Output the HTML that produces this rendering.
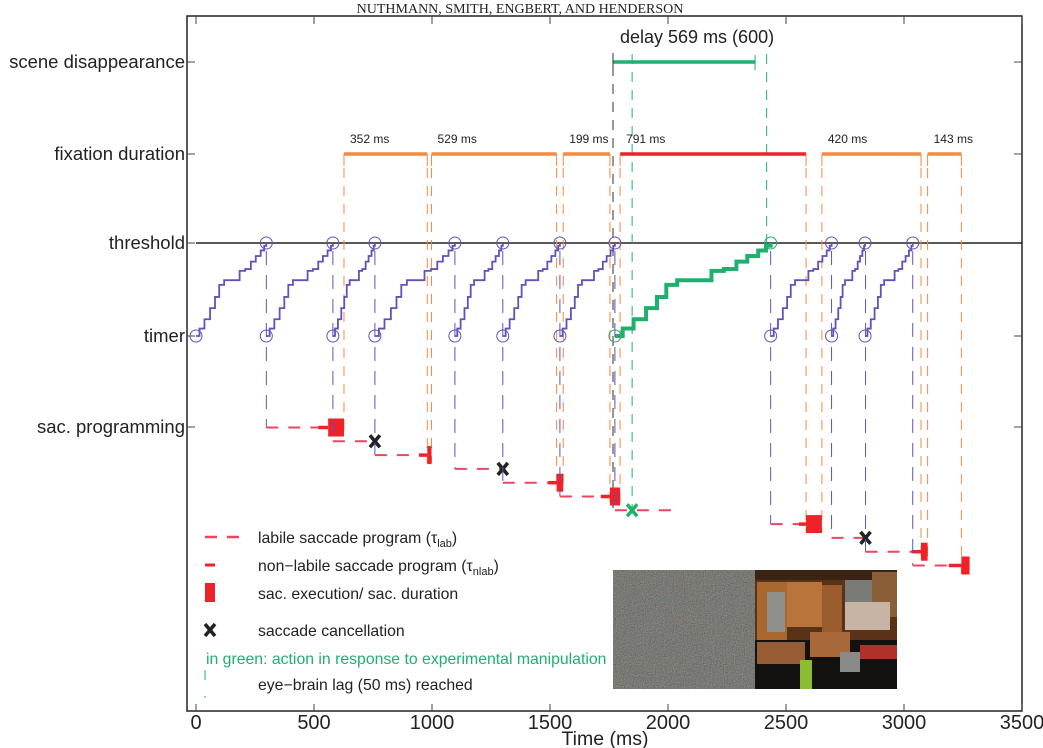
<!DOCTYPE html>
<html><head><meta charset="utf-8"><style>
html,body{margin:0;padding:0;background:#fff;}
svg{display:block;font-family:"Liberation Sans",sans-serif;}
</style></head><body>
<svg id="c" width="1043" height="748" viewBox="0 0 1043 748" xmlns="http://www.w3.org/2000/svg">
<defs>
<filter id="noise" x="0" y="0" width="100%" height="100%" color-interpolation-filters="sRGB"><feTurbulence type="fractalNoise" baseFrequency="0.9" numOctaves="2" seed="3"/><feColorMatrix type="matrix" values="0.45 0 0 0 0.25  0 0.45 0 0 0.25  0 0 0.45 0 0.23  0 0 0 0 1"/></filter>
</defs>
<text x="520" y="13" text-anchor="middle" font-family="Liberation Serif,serif" font-size="14" fill="#222">NUTHMANN, SMITH, ENGBERT, AND HENDERSON</text>
<g id="g"></g>
</svg>
<script>
// ---- data ----
var xTickLabels = ["0","500","1000","1500","2000","2500","3000","3500"];
var xTickValues = [0,500,1000,1500,2000,2500,3000,3500];
var rowLabels = ["scene disappearance","fixation duration","threshold","timer","sac. programming"];
// timer cycles: start, end (ms)
var cycleStart = [0,298,580,758,1097,1300,1542,1775,2435,2693,2835];
var cycleEnd   = [298,580,758,1097,1300,1542,1775,2435,2693,2835,3037];
var cycleGreen = [0,0,0,0,0,0,0,1,0,0,0];
// staircase profile (fraction of time, fraction of level)
var stepT = [0.05,0.12,0.2,0.27,0.33,0.4,0.55,0.62,0.7,0.78,0.85,0.92,0.97,1.0];
var stepL = [0.08,0.18,0.3,0.42,0.55,0.6,0.6,0.7,0.72,0.8,0.86,0.92,0.97,1.0];
// fixations
var fixStart = [627,998,1556,1797,2652,3100];
var fixEnd   = [980,1528,1754,2585,3072,3243];
var fixLabel = ["352 ms","529 ms","199 ms","791 ms","420 ms","143 ms"];
var fixRed   = [0,0,0,1,0,0];
// saccade programs (row index = order)
var progStart  = [298,580,758,1097,1300,1542,1775,2435,2693,2837,3037];
var labileEnd  = [518,758,945,1300,1492,1715,2020,2555,2837,3032,3190];
var nlabEnd    = [560,null,980,null,1528,1754,null,2585,null,3072,3243];
var execEnd    = [627,null,998,null,1556,1797,null,2652,null,3100,3278];
var cancelT    = [null,758,null,1300,null,null,1848,null,2837,null,null];
var cancelGreen= [0,0,0,0,0,0,1,0,0,0,0];
// scene disappearance
var sceneOff = 1767, sceneOn = 2369, sceneResp1 = 1848, sceneResp2 = 2418;

// ---- helpers ----
var NS="http://www.w3.org/2000/svg", G=document.getElementById('g');
function X(t){return 196+t*(1022-196)/3500;}
var yScene=62,yFix=154,yThr=243,yTim=336,ySac=427;
function rowY(k){return 427.5+k*13.8;}
function mk(tag,at,parent){var e=document.createElementNS(NS,tag);for(var k in at)e.setAttribute(k,at[k]);(parent||G).appendChild(e);return e;}
var BLUE="#6152b8",ORANGE="#f58a42",RED="#ee2229",PINK="#ee4460",GREEN="#1fb070";

// frame
var fr=mk('rect',{x:187,y:16,width:835,height:695,fill:'none',stroke:'#222','stroke-width':1.5});

xTickValues.forEach(function(v,i){
  var x=X(v);
  var t1=mk('line',{x1:x,x2:x,y1:711,y2:704,stroke:'#444'});
  
  var t2=mk('line',{x1:x,x2:x,y1:16,y2:24,stroke:'#444'});
  
  var tl=mk('text',{x:x,y:729,'text-anchor':'middle','font-size':20,fill:'#222'});tl.textContent=xTickLabels[i];
  
});
var xt=mk('text',{x:605,y:745,'text-anchor':'middle','font-size':19.5,fill:'#222'});xt.textContent="Time (ms)";

[yScene,yFix,yThr,yTim,ySac].forEach(function(y,i){
  var a=mk('line',{x1:187,x2:195,y1:y,y2:y,stroke:'#444'});
  var b=mk('line',{x1:1014,x2:1022,y1:y,y2:y,stroke:'#444'});
  var l=mk('text',{x:185,y:y+6,'text-anchor':'end','font-size':18.5,fill:'#222'});l.textContent=rowLabels[i];
  
});
var th=mk('line',{x1:196,x2:1022,y1:yThr,y2:yThr,stroke:'#222','stroke-width':1.6});


// images
var im1=mk('rect',{x:613,y:570,width:142,height:119,fill:'#7a7a75',filter:'url(#noise)'});

var kg=mk('g',{});
[[755,570,142,119,'#5a3218'],[755,570,142,10,'#3a2414'],[757,582,30,60,'#a86830'],[767,592,18,40,'#8f8f8c'],[787,582,35,45,'#b8743a'],[822,585,20,50,'#9a5c2c'],[845,580,30,22,'#7a7a76'],[872,572,25,45,'#8a5e36'],[845,602,45,28,'#c8b4a4'],[755,640,142,49,'#141210'],[757,642,48,22,'#985c34'],[810,632,40,25,'#a8683a'],[860,645,37,14,'#b0302a'],[800,660,12,29,'#8abd32'],[840,652,20,20,'#8a8a88']].forEach(function(r){
  mk('rect',{x:r[0],y:r[1],width:r[2],height:r[3],fill:r[4]},kg);
});

// scene disappearance
var sb=mk('line',{x1:X(sceneOff),x2:X(sceneOn),y1:yScene,y2:yScene,stroke:GREEN,'stroke-width':3.5});

mk('line',{x1:X(sceneOff),x2:X(sceneOff),y1:53,y2:66,stroke:'#333','stroke-width':1});
mk('line',{x1:X(sceneOn),x2:X(sceneOn),y1:55,y2:70,stroke:GREEN,'stroke-width':1});
var dl=mk('text',{x:620,y:43,'font-size':18,fill:'#222'});dl.textContent="delay 569 ms (600)";

var v1=mk('line',{x1:X(sceneOff),x2:X(sceneOff),y1:66,y2:510,stroke:'#333','stroke-dasharray':'10 8'});

var v2=mk('line',{x1:X(sceneResp1),x2:X(sceneResp1),y1:54,y2:510,stroke:GREEN,'stroke-dasharray':'10 8'});

var v3=mk('line',{x1:X(sceneResp2),x2:X(sceneResp2),y1:54,y2:244,stroke:GREEN,'stroke-dasharray':'10 8'});


// fixations
fixStart.forEach(function(s,i){
  var c=fixRed[i]?RED:ORANGE,e=fixEnd[i];
  var b=mk('line',{x1:X(s),x2:X(e),y1:yFix,y2:yFix,stroke:c,'stroke-width':3.5});
  
  mk('line',{x1:X(s),x2:X(s),y1:yFix,y2:yFix+12,stroke:ORANGE,'stroke-width':1});
  mk('line',{x1:X(e),x2:X(e),y1:yFix,y2:yFix+12,stroke:ORANGE,'stroke-width':1});
  var t=mk('text',{x:X(s)+6,y:yFix-11,'font-size':12,fill:'#222'});t.textContent=fixLabel[i];
  
});
// orange dashed drop lines at fixation boundaries
fixStart.concat(fixEnd).forEach(function(t){
  var k=-1;
  for(var j=0;j<progStart.length;j++){ if(nlabEnd[j]===t||execEnd[j]===t){k=j;} }
  if(k<0)return;
  var l=mk('line',{x1:X(t),x2:X(t),y1:yFix+14,y2:rowY(k)+8,stroke:ORANGE,'stroke-width':1,'stroke-dasharray':'10 8'});
  
});

// timer staircases
cycleStart.forEach(function(s,i){
  var e=cycleEnd[i],d=e-s,g=cycleGreen[i];
  var pts=[[X(s),yTim]];var prevL=0;
  for(var j=0;j<stepT.length;j++){var x=X(s+stepT[j]*d);
    pts.push([x,yTim-prevL*(yTim-yThr)]);prevL=stepL[j];pts.push([x,yTim-prevL*(yTim-yThr)]);}
  var p=mk('polyline',{points:pts.map(function(q){return q.join(',');}).join(' '),fill:'none',stroke:g?GREEN:BLUE,'stroke-width':g?4:1.8});
  
  var c1=mk('circle',{cx:X(s),cy:yTim,r:6,fill:'none',stroke:(g?GREEN:BLUE),'stroke-width':1});
  
  var c2=mk('circle',{cx:X(e),cy:yThr,r:6,fill:'none',stroke:(g?GREEN:BLUE),'stroke-width':1});
  
});

// saccade programs
progStart.forEach(function(s,k){
  var y=rowY(k);
  var vl=mk('line',{x1:X(s),x2:X(s),y1:yThr+8,y2:y,stroke:BLUE,'stroke-width':1,'stroke-dasharray':'14 10'});
  
  var lb=mk('line',{x1:X(s),x2:X(labileEnd[k]),y1:y,y2:y,stroke:PINK,'stroke-width':2,'stroke-dasharray':'12 10'});
  
  if(nlabEnd[k]!==null){
    var nl=mk('line',{x1:X(labileEnd[k]),x2:X(nlabEnd[k]),y1:y,y2:y,stroke:RED,'stroke-width':3.5});
    
    var ex=mk('rect',{x:X(nlabEnd[k]),y:y-9,width:Math.max(4,X(execEnd[k])-X(nlabEnd[k])),height:18,fill:RED});
    
  }
  if(cancelT[k]!==null){
    var cx=X(cancelT[k]),cg=mk('g',{stroke:cancelGreen[k]?GREEN:'#222','stroke-width':3.5});
    
    mk('line',{x1:cx-5,y1:y-6,x2:cx+5,y2:y+6},cg);mk('line',{x1:cx+5,y1:y-6,x2:cx-5,y2:y+6},cg);
  }
});

// legend
function lt(x,y,html,name,col){var t=mk('text',{x:x,y:y,'font-size':15.8,fill:col||'#222'});t.innerHTML=html;return t;}
var a=mk('line',{x1:205,x2:242,y1:537,y2:537,stroke:PINK,'stroke-width':2.5,'stroke-dasharray':'12 10'});
lt(258,543,'labile saccade program (τ<tspan font-size="11" dy="4">lab</tspan><tspan dy="-4">)</tspan>','legend-labile');
var b=mk('line',{x1:205,x2:215,y1:565,y2:565,stroke:RED,'stroke-width':3});
lt(258,571,'non−labile saccade program (τ<tspan font-size="11" dy="4">nlab</tspan><tspan dy="-4">)</tspan>','legend-nonlabile');
var c=mk('rect',{x:205,y:583,width:10,height:19,fill:RED});
lt(258,599,'sac. execution/ sac. duration','legend-execution');
var xg=mk('g',{stroke:'#222','stroke-width':3.5});
mk('line',{x1:205,y1:624,x2:215,y2:636},xg);mk('line',{x1:215,y1:624,x2:205,y2:636},xg);
lt(258,636,'saccade cancellation','legend-cancellation');
lt(206,664,'in green: action in response to experimental manipulation','legend-green-note',GREEN);
var d=mk('line',{x1:205,x2:205,y1:670,y2:698,stroke:GREEN,'stroke-width':1,'stroke-dasharray':'10 16'});
lt(258,690,'eye−brain lag (50 ms) reached','legend-lag');
</script>
</body></html>
